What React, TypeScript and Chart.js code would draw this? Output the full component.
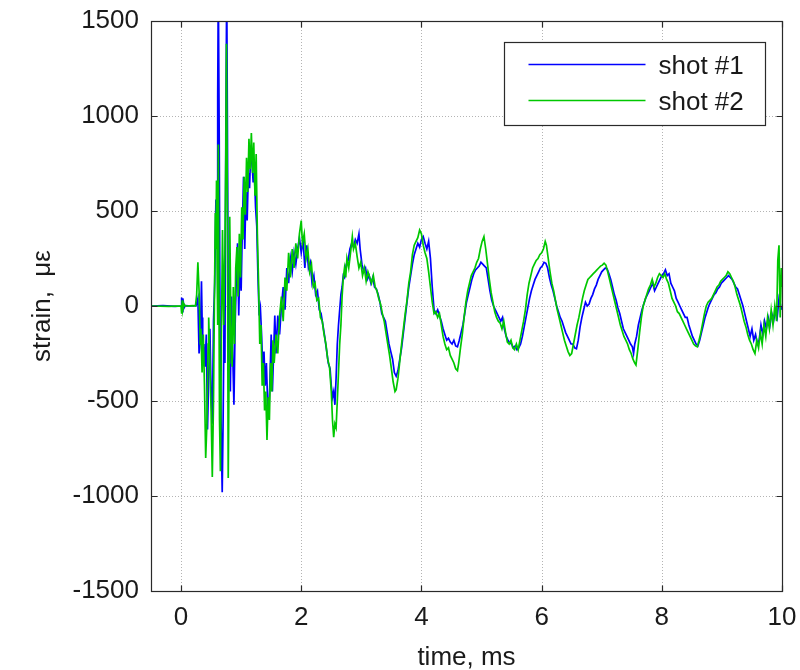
import React, { useEffect, useRef } from "react";
import { Chart, registerables } from "chart.js";

Chart.register(...registerables);

// time (ms), strain (microstrain)
const shot1Label = "shot #1";
const shot2Label = "shot #2";
const shot1Color = "#0000ff";
const shot2Color = "#00c800";

const xTicks = [0, 2, 4, 6, 8, 10];
const yTicks = [-1500, -1000, -500, 0, 500, 1000, 1500];

const shot1: [number, number][] = [
  [-0.5, 0], [-0.3, 2], [-0.1, -2], [0, 0], [0.01, 45], [0.02, -30], [0.03, 40], [0.05, -10], [0.07, 2],
  [0.2, 0], [0.25, 3], [0.28, 40], [0.3, -250], [0.32, -180], [0.34, 130], [0.35, -60], [0.36, -270],
  [0.38, -200], [0.4, -320], [0.42, -150], [0.44, -650], [0.46, -380], [0.48, -120], [0.5, -450],
  [0.52, -620], [0.54, -80], [0.56, 120], [0.58, 560], [0.6, 350], [0.61, 1100], [0.62, 1700],
  [0.635, 900], [0.65, -200], [0.67, -700], [0.685, -980], [0.7, -600], [0.72, 100], [0.73, -300],
  [0.745, 900], [0.76, 1700], [0.775, 700], [0.79, -320], [0.8, 100], [0.82, -450], [0.84, 50],
  [0.86, -250], [0.88, -520], [0.9, -100], [0.92, 150], [0.94, 330], [0.96, -50], [0.98, 250],
  [1.0, 80], [1.02, 420], [1.04, 680], [1.06, 300], [1.08, 600], [1.1, 450], [1.12, 700], [1.14, 620],
  [1.16, 820], [1.18, 760], [1.2, 650], [1.22, 700], [1.24, 520], [1.26, 420], [1.28, 150], [1.3, -50],
  [1.32, -10], [1.34, -150], [1.36, -330], [1.38, -240], [1.4, -420], [1.42, -300], [1.44, -500],
  [1.46, -580], [1.48, -380], [1.5, -150], [1.52, -450], [1.54, -250], [1.56, -50], [1.58, -250],
  [1.61, -50], [1.64, -150], [1.67, 0], [1.7, 100], [1.73, -20], [1.76, 200], [1.79, 120], [1.82, 250],
  [1.85, 180], [1.88, 280], [1.91, 220], [1.94, 300], [1.97, 360], [2.0, 280], [2.03, 350], [2.06, 200],
  [2.09, 320], [2.12, 200], [2.15, 230], [2.18, 120], [2.21, 160], [2.24, 60], [2.27, 80], [2.3, -20],
  [2.33, -40], [2.36, -100], [2.39, -160], [2.42, -230], [2.45, -300], [2.48, -330], [2.5, -420],
  [2.52, -480], [2.54, -450], [2.56, -520], [2.58, -380], [2.6, -200], [2.62, -100], [2.64, -20],
  [2.66, 60], [2.68, 100], [2.7, 160], [2.72, 150], [2.75, 220], [2.78, 240], [2.81, 300], [2.84, 330],
  [2.87, 310], [2.9, 350], [2.93, 330], [2.96, 380], [2.98, 300], [3.01, 220], [3.04, 180], [3.07, 200],
  [3.1, 140], [3.13, 160], [3.16, 120], [3.19, 150], [3.22, 100], [3.25, 90], [3.28, 60], [3.31, 20],
  [3.34, -40], [3.37, -60], [3.4, -80], [3.43, -140], [3.46, -200], [3.49, -240], [3.52, -280],
  [3.55, -350], [3.58, -370], [3.61, -340], [3.64, -280], [3.67, -220], [3.7, -140], [3.73, -60],
  [3.76, 20], [3.79, 100], [3.82, 160], [3.85, 220], [3.88, 270], [3.91, 300], [3.94, 330], [3.97, 310],
  [4.0, 350], [4.03, 365], [4.06, 330], [4.09, 300], [4.12, 340], [4.15, 250], [4.18, 100], [4.21, -20],
  [4.24, -40], [4.27, -20], [4.3, -50], [4.33, -80], [4.36, -120], [4.39, -150], [4.42, -180],
  [4.45, -170], [4.48, -190], [4.51, -200], [4.54, -180], [4.57, -210], [4.6, -215], [4.63, -180],
  [4.66, -140], [4.69, -100], [4.72, -40], [4.75, 20], [4.78, 60], [4.81, 100], [4.84, 140], [4.87, 170],
  [4.9, 190], [4.93, 200], [4.96, 210], [4.99, 230], [5.02, 220], [5.05, 210], [5.08, 200], [5.11, 140],
  [5.14, 80], [5.17, 30], [5.2, 0], [5.23, -20], [5.26, -40], [5.29, -60], [5.32, -80], [5.35, -60],
  [5.38, -120], [5.41, -160], [5.44, -180], [5.47, -195], [5.5, -200], [5.53, -220], [5.56, -210],
  [5.59, -230], [5.62, -220], [5.65, -200], [5.68, -160], [5.71, -110], [5.74, -60], [5.77, -10],
  [5.8, 40], [5.83, 80], [5.86, 110], [5.89, 140], [5.92, 160], [5.95, 180], [5.98, 200], [6.01, 210],
  [6.04, 230], [6.07, 225], [6.1, 200], [6.13, 150], [6.16, 110], [6.19, 80], [6.22, 40], [6.25, 0],
  [6.28, -30], [6.31, -60], [6.34, -80], [6.37, -110], [6.4, -140], [6.43, -160], [6.46, -180],
  [6.49, -200], [6.52, -200], [6.55, -220], [6.58, -225], [6.61, -180], [6.64, -110], [6.67, -60],
  [6.7, -20], [6.73, 20], [6.76, 0], [6.79, 10], [6.82, 40], [6.85, 60], [6.88, 90], [6.91, 110],
  [6.94, 140], [6.97, 160], [7.0, 180], [7.03, 190], [7.06, 200], [7.09, 195], [7.12, 170], [7.15, 140],
  [7.18, 100], [7.21, 60], [7.24, 30], [7.27, -10], [7.3, -40], [7.33, -80], [7.36, -120], [7.39, -140],
  [7.42, -160], [7.45, -180], [7.48, -200], [7.51, -215], [7.53, -250], [7.55, -200], [7.58, -160],
  [7.61, -100], [7.64, -60], [7.67, -20], [7.7, 10], [7.73, 40], [7.76, 60], [7.79, 80], [7.82, 100],
  [7.85, 120], [7.88, 80], [7.91, 100], [7.94, 120], [7.97, 140], [8.0, 160], [8.03, 170], [8.06, 190],
  [8.09, 160], [8.12, 170], [8.15, 120], [8.18, 100], [8.21, 80], [8.24, 40], [8.27, 20], [8.3, 0],
  [8.33, -20], [8.36, -40], [8.39, -60], [8.42, -60], [8.45, -100], [8.48, -130], [8.51, -160],
  [8.54, -180], [8.57, -200], [8.6, -210], [8.63, -180], [8.66, -140], [8.69, -100], [8.72, -60],
  [8.75, -30], [8.78, 0], [8.81, 20], [8.84, 40], [8.87, 60], [8.9, 70], [8.93, 90], [8.96, 100],
  [8.99, 120], [9.02, 130], [9.05, 140], [9.08, 150], [9.11, 160], [9.14, 150], [9.17, 140], [9.2, 120],
  [9.23, 100], [9.26, 90], [9.29, 60], [9.32, 30], [9.35, 0], [9.38, -40], [9.41, -80], [9.44, -120],
  [9.47, -160], [9.5, -120], [9.53, -180], [9.56, -150], [9.59, -200], [9.62, -180], [9.65, -100],
  [9.68, -150], [9.71, -80], [9.74, -120], [9.77, -60], [9.8, -100], [9.83, -40], [9.86, -80],
  [9.89, -20], [9.92, -60], [9.95, 40], [9.98, 0], [10.0, -20],
];

const shot2: [number, number][] = [
  [-0.5, 0], [-0.2, -2], [0, 0], [0.01, -40], [0.02, 30], [0.03, -20], [0.05, 10], [0.07, 0], [0.2, 2],
  [0.24, 0], [0.26, 60], [0.28, 230], [0.3, 80], [0.32, -200], [0.33, -120], [0.35, -350], [0.37, -150],
  [0.39, -420], [0.41, -800], [0.43, -620], [0.45, -200], [0.46, -60], [0.48, -300], [0.5, -550],
  [0.52, -900], [0.54, -500], [0.55, -150], [0.57, 490], [0.58, 300], [0.59, 660], [0.6, 200],
  [0.61, -100], [0.62, 850], [0.64, -600], [0.655, -870], [0.67, -200], [0.69, 400], [0.71, -100],
  [0.73, 300], [0.745, 800], [0.755, 1380], [0.77, 600], [0.785, -905], [0.8, -300], [0.81, 470],
  [0.83, -100], [0.85, -320], [0.87, 100], [0.89, -200], [0.91, 200], [0.93, 310], [0.95, 50],
  [0.97, 380], [0.99, 150], [1.01, 520], [1.03, 350], [1.05, 680], [1.07, 480], [1.09, 780], [1.11, 600],
  [1.13, 880], [1.15, 720], [1.17, 910], [1.19, 700], [1.21, 860], [1.23, 580], [1.25, 800], [1.27, 380],
  [1.29, 120], [1.31, -200], [1.33, -100], [1.35, -420], [1.37, -300], [1.39, -550], [1.41, -450],
  [1.43, -705], [1.45, -480], [1.47, -600], [1.49, -300], [1.51, -450], [1.53, -180], [1.55, -300],
  [1.58, -150], [1.61, -250], [1.64, -50], [1.67, 50], [1.7, -80], [1.73, 150], [1.76, 80], [1.79, 280],
  [1.82, 150], [1.85, 300], [1.88, 200], [1.91, 330], [1.94, 250], [1.97, 380], [2.0, 450], [2.02, 330],
  [2.05, 380], [2.08, 250], [2.11, 300], [2.14, 180], [2.17, 220], [2.2, 100], [2.23, 120], [2.26, 30],
  [2.29, 40], [2.32, -60], [2.35, -80], [2.38, -150], [2.41, -200], [2.44, -280], [2.47, -320],
  [2.5, -450], [2.52, -600], [2.54, -690], [2.56, -620], [2.58, -640], [2.6, -500], [2.62, -350],
  [2.64, -200], [2.66, -100], [2.68, 50], [2.7, 150], [2.72, 200], [2.74, 150], [2.76, 250], [2.79, 200],
  [2.82, 280], [2.85, 365], [2.87, 300], [2.9, 330], [2.93, 260], [2.96, 200], [2.99, 230], [3.02, 160],
  [3.05, 200], [3.08, 130], [3.11, 180], [3.14, 150], [3.17, 120], [3.2, 160], [3.23, 100], [3.26, 80],
  [3.29, 40], [3.32, 10], [3.35, -40], [3.38, -80], [3.41, -140], [3.44, -200], [3.47, -260], [3.5, -330],
  [3.53, -400], [3.56, -450], [3.58, -440], [3.61, -380], [3.64, -290], [3.67, -200], [3.7, -120],
  [3.73, -40], [3.76, 30], [3.79, 120], [3.82, 180], [3.85, 270], [3.88, 320], [3.91, 340], [3.94, 360],
  [3.97, 400], [4.0, 380], [4.03, 320], [4.06, 280], [4.09, 250], [4.12, 180], [4.15, 100], [4.18, 20],
  [4.21, -40], [4.24, -30], [4.27, -60], [4.3, -40], [4.33, -100], [4.36, -160], [4.39, -200],
  [4.42, -230], [4.45, -220], [4.48, -260], [4.51, -280], [4.54, -300], [4.57, -330], [4.6, -340],
  [4.62, -300], [4.65, -220], [4.68, -150], [4.71, -60], [4.74, 20], [4.77, 80], [4.8, 120], [4.83, 160],
  [4.86, 180], [4.89, 200], [4.92, 230], [4.95, 250], [4.98, 300], [5.01, 340], [5.04, 365], [5.07, 300],
  [5.1, 220], [5.13, 140], [5.16, 70], [5.19, 20], [5.22, -30], [5.25, -60], [5.28, -80], [5.31, -90],
  [5.34, -120], [5.37, -80], [5.4, -140], [5.43, -190], [5.46, -200], [5.49, -180], [5.52, -220],
  [5.55, -230], [5.58, -200], [5.61, -230], [5.64, -180], [5.67, -130], [5.7, -80], [5.73, -20],
  [5.76, 60], [5.79, 120], [5.82, 160], [5.85, 200], [5.88, 220], [5.91, 240], [5.94, 250], [5.97, 270],
  [6.0, 280], [6.03, 300], [6.06, 340], [6.08, 320], [6.11, 250], [6.14, 180], [6.17, 120], [6.2, 80],
  [6.23, 30], [6.26, -20], [6.29, -60], [6.32, -100], [6.35, -140], [6.38, -180], [6.41, -210],
  [6.44, -240], [6.47, -260], [6.5, -250], [6.53, -200], [6.56, -150], [6.59, -100], [6.62, -60],
  [6.65, -10], [6.68, 40], [6.71, 80], [6.74, 110], [6.77, 140], [6.8, 150], [6.83, 160], [6.86, 170],
  [6.89, 180], [6.92, 190], [6.95, 200], [6.98, 210], [7.01, 215], [7.04, 225], [7.07, 215], [7.1, 180],
  [7.13, 140], [7.16, 100], [7.19, 60], [7.22, 20], [7.25, -20], [7.28, -60], [7.31, -100], [7.34, -130],
  [7.37, -160], [7.4, -180], [7.43, -200], [7.46, -230], [7.49, -250], [7.52, -280], [7.55, -300],
  [7.57, -310], [7.6, -230], [7.63, -140], [7.66, -60], [7.69, 0], [7.72, 30], [7.75, 60], [7.78, 90],
  [7.81, 110], [7.84, 140], [7.87, 100], [7.9, 120], [7.93, 150], [7.96, 170], [7.99, 160], [8.02, 150],
  [8.05, 170], [8.08, 140], [8.11, 120], [8.14, 80], [8.17, 40], [8.2, 20], [8.23, 0], [8.26, -30],
  [8.29, -40], [8.32, -60], [8.35, -80], [8.38, -100], [8.41, -120], [8.44, -140], [8.47, -160],
  [8.5, -180], [8.53, -200], [8.56, -210], [8.59, -215], [8.62, -180], [8.65, -140], [8.68, -90],
  [8.71, -40], [8.74, 0], [8.77, 20], [8.8, 30], [8.83, 40], [8.86, 60], [8.89, 80], [8.92, 100],
  [8.95, 110], [8.98, 130], [9.01, 140], [9.04, 150], [9.07, 160], [9.1, 180], [9.13, 170], [9.16, 150],
  [9.19, 130], [9.22, 100], [9.25, 60], [9.28, 30], [9.31, 0], [9.34, -40], [9.37, -80], [9.4, -110],
  [9.43, -150], [9.46, -180], [9.49, -200], [9.52, -230], [9.55, -250], [9.58, -180], [9.61, -220],
  [9.64, -140], [9.67, -200], [9.7, -100], [9.73, -160], [9.76, -60], [9.79, -120], [9.82, -20],
  [9.85, -100], [9.88, 0], [9.91, -80], [9.93, 240], [9.95, 320], [9.97, -60], [9.99, 200], [10.0, 100],
];

const FONT = "'Liberation Sans', Arial, Helvetica, sans-serif";
const TEXT = "#1a1a1a";

const decorPlugin = {
  id: "decor",
  beforeDatasetsDraw(chart: any) {
    const { ctx, chartArea: a, scales } = chart;
    ctx.save();
    ctx.strokeStyle = "#b4b4b4";
    ctx.lineWidth = 1;
    ctx.setLineDash([1, 2]);
    xTicks.forEach((v) => {
      const x = Math.round(scales.x.getPixelForValue(v)) + 0.5;
      ctx.beginPath();
      ctx.moveTo(x, a.top);
      ctx.lineTo(x, a.bottom);
      ctx.stroke();
    });
    yTicks.forEach((v) => {
      const y = Math.round(scales.y.getPixelForValue(v)) + 0.5;
      ctx.beginPath();
      ctx.moveTo(a.left, y);
      ctx.lineTo(a.right, y);
      ctx.stroke();
    });
    ctx.restore();
  },
  afterDatasetsDraw(chart: any) {
    const { ctx, chartArea: a, scales } = chart;
    ctx.save();
    ctx.strokeStyle = "#2a2a2a";
    ctx.lineWidth = 1.2;
    ctx.setLineDash([]);
    const L = Math.round(a.left) + 0.5;
    const R = Math.round(a.right) + 0.5;
    const T = Math.round(a.top) + 0.5;
    const B = Math.round(a.bottom) + 0.5;
    ctx.strokeRect(L, T, R - L, B - T);
    const tl = 6;
    xTicks.forEach((v) => {
      const x = Math.round(scales.x.getPixelForValue(v)) + 0.5;
      ctx.beginPath();
      ctx.moveTo(x, B);
      ctx.lineTo(x, B - tl);
      ctx.moveTo(x, T);
      ctx.lineTo(x, T + tl);
      ctx.stroke();
    });
    yTicks.forEach((v) => {
      const y = Math.round(scales.y.getPixelForValue(v)) + 0.5;
      ctx.beginPath();
      ctx.moveTo(L, y);
      ctx.lineTo(L + tl, y);
      ctx.moveTo(R, y);
      ctx.lineTo(R - tl, y);
      ctx.stroke();
    });
    // legend
    const bx = Math.round(a.right - 278) + 0.5;
    const by = Math.round(a.top + 21) + 0.5;
    const bw = 261;
    const bh = 83;
    ctx.fillStyle = "#ffffff";
    ctx.fillRect(bx, by, bw, bh);
    ctx.strokeStyle = "#2a2a2a";
    ctx.lineWidth = 1.2;
    ctx.strokeRect(bx, by, bw, bh);
    const items = [
      { label: shot1Label, color: shot1Color, y: by + 22 },
      { label: shot2Label, color: shot2Color, y: by + 58 },
    ];
    ctx.font = `26px ${FONT}`;
    ctx.textBaseline = "middle";
    ctx.textAlign = "left";
    items.forEach((it) => {
      ctx.strokeStyle = it.color;
      ctx.lineWidth = 1.3;
      ctx.beginPath();
      ctx.moveTo(bx + 24, it.y);
      ctx.lineTo(bx + 141, it.y);
      ctx.stroke();
      ctx.fillStyle = TEXT;
      ctx.fillText(it.label, bx + 154, it.y + 2);
    });
    ctx.restore();
  },
};

export default function App() {
  const ref = useRef<HTMLCanvasElement | null>(null);
  useEffect(() => {
    if (!ref.current) return;
    const chart = new Chart(ref.current, {
      type: "line",
      data: {
        datasets: [
          {
            label: shot1Label,
            data: shot1.map(([x, y]) => ({ x, y })),
            borderColor: shot1Color,
            borderWidth: 1.7,
            pointRadius: 0,
            tension: 0,
            order: 1,
          },
          {
            label: shot2Label,
            data: shot2.map(([x, y]) => ({ x, y })),
            borderColor: shot2Color,
            borderWidth: 1.7,
            pointRadius: 0,
            tension: 0,
            order: 0,
          },
        ],
      },
      options: {
        animation: false,
        responsive: false,
        events: [],
        layout: { padding: { top: 21, right: 18, left: 0, bottom: 0 } },
        plugins: { legend: { display: false }, tooltip: { enabled: false } },
        scales: {
          x: {
            type: "linear",
            min: -0.5,
            max: 10,
            afterBuildTicks: (s: any) => {
              s.ticks = xTicks.map((v) => ({ value: v }));
            },
            afterFit: (s: any) => {
              s.height = 79;
              s.paddingLeft = 0;
              s.paddingRight = 0;
            },
            grid: { display: false, drawTicks: false },
            border: { display: false },
            ticks: {
              color: TEXT,
              font: { family: FONT, size: 26 },
              padding: 11,
              maxRotation: 0,
              autoSkip: false,
              callback: (v: any) => String(v),
            },
            title: {
              display: true,
              text: "time, ms",
              color: TEXT,
              font: { family: FONT, size: 26 },
              padding: { top: 0, bottom: -3 },
            },
          },
          y: {
            type: "linear",
            min: -1500,
            max: 1500,
            afterBuildTicks: (s: any) => {
              s.ticks = yTicks.map((v) => ({ value: v }));
            },
            afterFit: (s: any) => {
              s.width = 151;
              s.paddingTop = 0;
              s.paddingBottom = 0;
            },
            grid: { display: false, drawTicks: false },
            border: { display: false },
            ticks: {
              color: TEXT,
              font: { family: FONT, size: 26 },
              padding: 12,
              autoSkip: false,
              callback: (v: any) => String(v),
            },
            title: {
              display: true,
              text: "strain,  με",
              color: TEXT,
              font: { family: FONT, size: 26 },
              padding: { top: 27, bottom: 0 },
            },
          },
        },
      },
      plugins: [decorPlugin],
    });
    return () => chart.destroy();
  }, []);
  return (
    <div style={{ position: "absolute", left: 0, top: 0, width: 800, height: 670, background: "#fff" }}>
      <canvas ref={ref} width={800} height={670} style={{ width: 800, height: 670, display: "block" }} />
    </div>
  );
}
